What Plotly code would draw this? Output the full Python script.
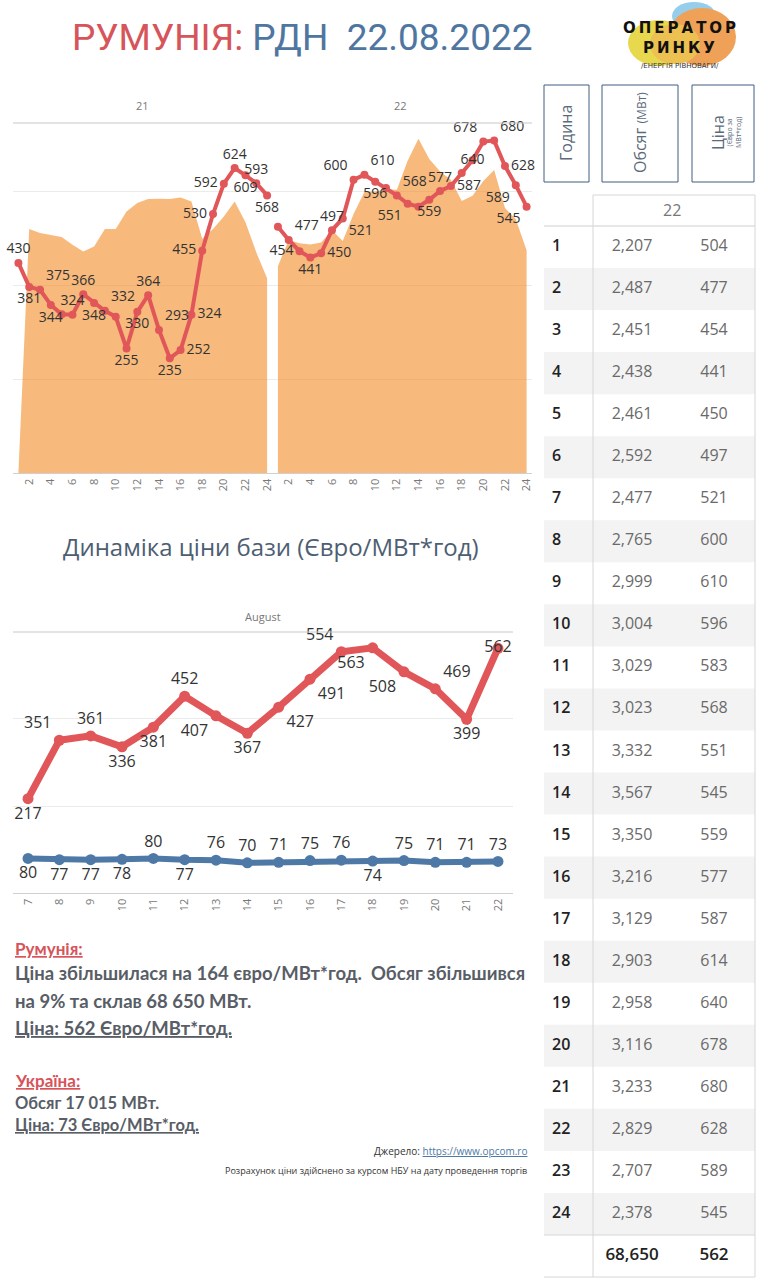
import plotly.graph_objects as go

W, H = 757, 1279

# ---- data ----
hours = list(range(1, 25))
vol_21 = [0, 2603, 2561, 2542, 2518, 2436, 2364, 2418, 2603, 2603, 2791, 2880,
          2925, 2927, 2925, 2940, 2898, 2500, 2605, 2738, 2898, 2675, 2355, 2080]
vol_22 = [2207, 2487, 2451, 2438, 2461, 2592, 2477, 2765, 2999, 3004, 3029, 3023,
          3332, 3567, 3350, 3216, 3129, 2903, 2958, 3116, 3233, 2829, 2707, 2378]
price_21 = [430, 381, 375, 344, 325, 324, 366, 348, 332, 320, 255, 330,
            364, 293, 235, 252, 324, 455, 530, 592, 624, 609, 593, 568]
price_22 = [504, 477, 454, 441, 450, 497, 521, 600, 610, 596, 583, 568,
            551, 545, 559, 577, 587, 614, 640, 678, 680, 628, 589, 545]
total_volume = 68650
base_price = 562

days = [7, 8, 9, 10, 11, 12, 13, 14, 15, 16, 17, 18, 19, 20, 21, 22]
ro_base = [217, 351, 361, 336, 381, 452, 407, 367, 427, 491, 554, 563, 508, 469, 399, 562]
ua_base = [80, 77, 77, 78, 80, 77, 76, 70, 71, 75, 76, 74, 75, 71, 71, 73]

# label placement (style only)
pos_21 = ["top center", "bottom center", "top right", "bottom center", None, "top center",
          "top center", "bottom center", "top right", None, "bottom center", "bottom center",
          "top center", "top right", "bottom center", "middle right", "middle right", "middle left",
          "middle left", "middle left", "top center", "bottom center", "top center", "bottom center"]
pos_22 = [None, "top right", "middle left", "bottom center", "middle right", "top center",
          "bottom right", "top left", "top right", "bottom center", None, "top right",
          "bottom left", None, "bottom center", "top center", "middle right", None,
          "middle center", "top left", "top right", "middle right", "bottom left", "bottom left"]
pos_ro = ["bottom center", "top left", "top center", "bottom center", "bottom center", "top center",
          "bottom left", "bottom center", "bottom right", "bottom right", "top left", "bottom left",
          "bottom left", "top right", "bottom center", "middle center"]
pos_ua = ["bottom center", "bottom center", "bottom center", "bottom center", "top center",
          "bottom center", "top center", "top center", "top center", "top center", "top center",
          "bottom center", "top center", "top center", "top center", "top center"]

RED = "#E15759"
BLUE = "#4E79A7"
ORANGE_FILL = "rgba(242,142,43,0.62)"
GRID = "#EBEBEB"
TXT = "#333333"


def px(x):
    return x / W


def py(y):
    return 1 - y / H


def labels(vals, pos):
    return [str(v) if p else "" for v, p in zip(vals, pos)], [p or "middle center" for p in pos]


fig = go.Figure()

# ---- top chart: hourly volume (area) + price (line), 21 and 22 Aug ----
x21 = hours
x22 = [h + 24 for h in hours]
for xs, vs in ((x21, vol_21), (x22, vol_22)):
    fig.add_trace(go.Scatter(x=xs, y=vs, mode="lines", fill="tozeroy",
                             fillcolor=ORANGE_FILL, line=dict(width=0, color=ORANGE_FILL),
                             xaxis="x", yaxis="y", hoverinfo="skip"))
for xs, vs, pos in ((x21, price_21, pos_21), (x22, price_22, pos_22)):
    t, tp = labels(vs, pos)
    fig.add_trace(go.Scatter(x=xs, y=vs, mode="lines+markers+text", text=t, textposition=tp,
                             textfont=dict(family="Open Sans", size=14, color=TXT),
                             line=dict(color=RED, width=4), marker=dict(color=RED, size=8),
                             xaxis="x", yaxis="y2", cliponaxis=False))

# ---- bottom chart: daily base price ----
t, tp = labels(ro_base, pos_ro)
fig.add_trace(go.Scatter(x=days, y=ro_base, mode="lines+markers+text", text=t, textposition=tp,
                         textfont=dict(family="Open Sans", size=16, color=TXT),
                         line=dict(color=RED, width=7), marker=dict(color=RED, size=11),
                         xaxis="x2", yaxis="y3", cliponaxis=False))
t, tp = labels(ua_base, pos_ua)
fig.add_trace(go.Scatter(x=days, y=ua_base, mode="lines+markers+text", text=t, textposition=tp,
                         textfont=dict(family="Open Sans", size=16, color=TXT),
                         line=dict(color=BLUE, width=6), marker=dict(color=BLUE, size=11),
                         xaxis="x2", yaxis="y3", cliponaxis=False))

# ---- table ----
rows = list(range(1, 25))
tfont = dict(family="Open Sans", size=16)
fig.add_trace(go.Scatter(x=[8] * 24, y=rows, mode="text", text=[str(h) for h in hours],
                         textposition="middle right",
                         textfont=dict(tfont, color="#222222", weight=600),
                         xaxis="x3", yaxis="y4"))
fig.add_trace(go.Scatter(x=[88] * 24, y=rows, mode="text", text=[f"{v:,}" for v in vol_22],
                         textposition="middle center", textfont=dict(tfont, color="#6a6a6a"),
                         xaxis="x3", yaxis="y4"))
fig.add_trace(go.Scatter(x=[170] * 24, y=rows, mode="text", text=[str(v) for v in price_22],
                         textposition="middle center", textfont=dict(tfont, color="#6a6a6a"),
                         xaxis="x3", yaxis="y4"))
fig.add_trace(go.Scatter(x=[88, 170], y=[25, 25], mode="text",
                         text=[f"{total_volume:,}", str(base_price)],
                         textposition="middle center",
                         textfont=dict(tfont, size=17, color="#222222", weight=600),
                         xaxis="x3", yaxis="y4"))

shapes = []
for r in rows:
    if r % 2 == 0:
        shapes.append(dict(type="rect", xref="paper", yref="y4", x0=px(544), x1=px(755),
                           y0=r - 0.5, y1=r + 0.5, fillcolor="#F3F3F3", line_width=0, layer="below"))


def hline(y, x0, x1, color="#D6D6D6", w=1):
    shapes.append(dict(type="line", xref="paper", yref="paper", x0=px(x0), x1=px(x1),
                       y0=py(y), y1=py(y), line=dict(color=color, width=w)))


def vline(x, y0, y1, color="#D6D6D6", w=1):
    shapes.append(dict(type="line", xref="paper", yref="paper", x0=px(x), x1=px(x),
                       y0=py(y0), y1=py(y1), line=dict(color=color, width=w)))


def rect(x0, y0, x1, y1, **kw):
    shapes.append(dict(type="rect", xref="paper", yref="paper", x0=px(x0), x1=px(x1),
                       y0=py(y1), y1=py(y0), **kw))


def ellipse(x0, y0, x1, y1, color):
    shapes.append(dict(type="circle", xref="paper", yref="paper", x0=px(x0), x1=px(x1),
                       y0=py(y1), y1=py(y0), fillcolor=color, line_width=0, layer="below"))


hline(226, 544, 755, "#CFCFCF")
hline(1235, 544, 755)
hline(1277, 544, 755)
hline(195, 593, 755)
vline(593, 195, 1277)
vline(755, 195, 1277)
# header boxes
for x0, x1 in ((544, 589), (602, 678), (692, 754)):
    rect(x0, 85, x1, 182, line=dict(color="#3F5F7F", width=1), fillcolor="rgba(0,0,0,0)")
# chart header lines
hline(123, 13, 532, "#C8C8C8")
hline(632, 13, 513, "#C8C8C8")

# logo blobs
ellipse(672, 2, 716, 30, "#95CDEB")
ellipse(628, 20, 690, 66, "#E8D84E")
ellipse(668, 8, 736, 66, "#EFA257")
ellipse(650, 24, 700, 64, "#EDC052")

ann = []


def text(x, y, s, size, color, xanchor="center", family="Open Sans", angle=0):
    ann.append(dict(x=px(x), y=py(y), xref="paper", yref="paper", text=s, showarrow=False,
                    xanchor=xanchor, yanchor="middle", textangle=angle,
                    font=dict(family=family, size=size, color=color)))


text(302, 38, "<span style='color:#D6545A'>РУМУНІЯ:</span> РДН  22.08.2022", 37, "#4F76A0",
     family="Roboto")
text(679, 28, "<b>О\u2009П\u2009Е\u2009Р\u2009А\u2009Т\u2009О\u2009Р</b>", 15, "#111111", family="DejaVu Sans")
text(679, 48, "<b>Р\u2009И\u2009Н\u2009К\u2009У</b>", 15, "#111111", family="DejaVu Sans")
text(680, 66, "/ЕНЕРГІЯ РІВНОВАГИ/", 7, "#333333", family="DejaVu Sans")

text(142, 105, "21", 11, "#777777")
text(400, 105, "22", 11, "#777777")
text(263, 617, "August", 11, "#777777")
text(271, 546, "Динаміка ціни бази (Євро/МВт*год)", 24, "#4D5E72")

# table headers
text(566, 133, "Година", 16, "#5B6B7C", angle=-90)
text(640, 133, "Обсяг <span style='font-size:12px'>(МВт)</span>", 16, "#5B6B7C", angle=-90)
text(718, 133, "Ціна", 16, "#5B6B7C", angle=-90)
text(734, 133, "(Євро за<br>МВт*год)", 7, "#5B6B7C", angle=-90)
text(672, 210, "22", 16, "#777777")

# commentary
GREY = "#585D66"
text(13, 948, "<b><u>Румунія:</u></b>", 17, "#D6545A", xanchor="left", family="Lato")
text(13, 973, "<b>Ціна збільшилася на 164 євро/МВт*год.  Обсяг збільшився</b>", 18.5, GREY,
     xanchor="left", family="Lato")
text(13, 1001, "<b>на 9% та склав 68 650 МВт.</b>", 18.5, GREY, xanchor="left", family="Lato")
text(13, 1028, "<b><u>Ціна: 562 Євро/МВт*год.</u></b>", 18.5, GREY, xanchor="left", family="Lato")
text(13, 1080, "<b><u>Україна:</u></b>", 17, "#D6545A", xanchor="left", family="Lato")
text(13, 1103, "<b>Обсяг 17 015 МВт.</b>", 16.5, GREY, xanchor="left", family="Lato")
text(13, 1125, "<b><u>Ціна: 73 Євро/МВт*год.</u></b>", 16.5, GREY, xanchor="left", family="Lato")
text(529, 1151, "Джерело: <span style='color:#4E79A7'><u>https://www.opcom.ro</u></span>", 10,
     "#333333", xanchor="right")
text(529, 1170, "Розрахунок ціни здійснено за курсом НБУ на дату проведення торгів", 9,
     "#333333", xanchor="right")

tick_hours = list(range(2, 49, 2))
fig.update_layout(
    width=W, height=H, margin=dict(l=0, r=0, t=0, b=0),
    paper_bgcolor="white", plot_bgcolor="rgba(0,0,0,0)",
    showlegend=False, shapes=shapes, annotations=ann,
    font=dict(family="Open Sans"),
    xaxis=dict(domain=[px(13), px(532)], range=[0.5, 48.5], anchor="y",
               tickvals=tick_hours, ticktext=[str(h if h <= 24 else h - 24) for h in tick_hours],
               tickangle=-90, tickfont=dict(size=11, color="#777777"), showgrid=False,
               showline=True, linecolor="#D0D0D0", ticks="", zeroline=False, fixedrange=True),
    yaxis=dict(domain=[py(473.3), py(123)], range=[0, 3734], tickvals=[1000, 2000, 3000],
               showticklabels=False, gridcolor=GRID, zeroline=False, anchor="x"),
    yaxis2=dict(domain=[py(473.3), py(123)], range=[0, 716], overlaying="y", side="right",
                showticklabels=False, showgrid=False, zeroline=False, anchor="x"),
    xaxis2=dict(domain=[px(13), px(513)], range=[6.52, 22.48], anchor="y3",
                tickvals=days, tickangle=-90, tickfont=dict(size=11, color="#777777"),
                showgrid=False, showline=True, linecolor="#D0D0D0", ticks="", zeroline=False),
    yaxis3=dict(domain=[py(893.3), py(631.7)], range=[0, 600], tickvals=[200, 400],
                showticklabels=False, gridcolor=GRID, zeroline=False, anchor="x2"),
    xaxis3=dict(domain=[px(544), px(755)], range=[0, 211], visible=False, anchor="y4"),
    yaxis4=dict(domain=[py(1277), py(226)], range=[25.5, 0.5], visible=False, anchor="x3"),
)

fig.write_html("out.html", config={"displayModeBar": False},
               post_script="document.body.style.margin='0';")
